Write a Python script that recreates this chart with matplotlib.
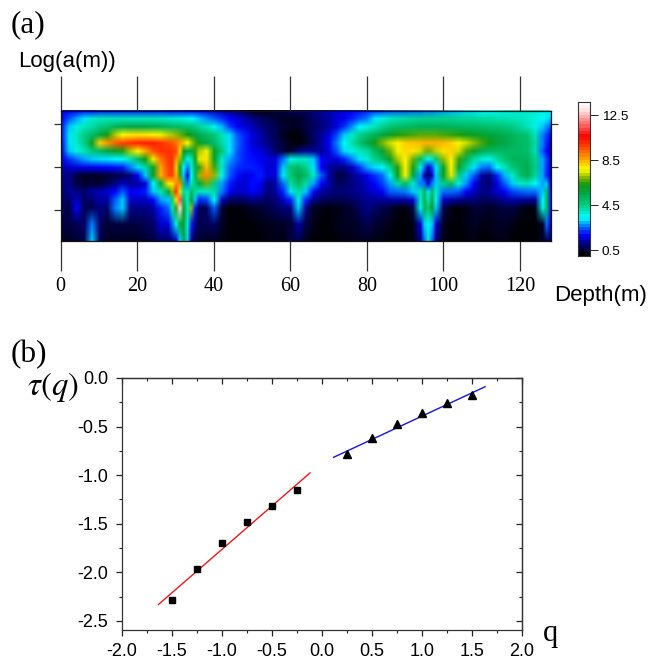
import numpy as np
import matplotlib
matplotlib.use("Agg")
import matplotlib.pyplot as plt
from matplotlib.colors import LinearSegmentedColormap, Normalize
from matplotlib.image import NonUniformImage
from matplotlib.ticker import MultipleLocator

W, H = 661, 659

depth = [0,2,4,6,8,10,12,14,16,18,20,22,24,26,28,
         29,30,31,32,33,34,35,36,
         38,40,42,44,46,48,50,52,54,56,58,60,62,64,66,68,70,72,74,76,78,80,82,84,86,88,90,92,
         94,95,96,97,98,
         100,102,104,106,108,110,112,114,116,118,120,122,124,126,
         127,128]
log_rows = [0,1,2,2.5,3,3.5,4,4.5,5,5.5,6,6.5,7,7.5,8]

row0 = [1.6,1.7,1.8,1.9,1.9,2.0,2.0,2.0,2.0,2.0,2.0,2.0,2.0,2.0,1.9,
        1.9,1.9,1.9,1.9,1.8,1.8,1.8,1.7,
        1.6,1.4,1.2,1.0,0.8,0.5,0.2,0.1,0.2,0.4,0.5,0.6,0.7,0.8,1.0,1.1,1.3,1.5,1.7,1.8,1.9,2.0,2.1,2.2,2.3,2.4,2.4,2.5,
        2.5,2.6,2.6,2.6,2.7,
        2.8,2.9,3.0,3.1,3.2,3.3,3.4,3.5,3.6,3.7,3.7,3.7,3.7,3.6,
        3.5,3.3]
row0b = [1.8,2.3,2.8,3.2,3.8,3.9,4.0,4.0,4.0,4.0,4.0,4.0,4.0,3.9,3.8,
         3.8,3.7,3.7,3.6,3.5,3.4,3.2,3.0,
         2.7,2.4,2.1,1.8,1.6,1.3,1.0,0.8,0.6,0.4,0.3,0.3,0.3,0.5,0.8,1.0,1.2,1.5,1.7,2.0,2.3,2.6,3.2,3.6,3.9,4.1,4.2,4.3,
         4.4,4.4,4.4,4.4,4.4,
         4.4,4.4,4.3,4.3,4.3,4.2,4.2,4.1,4.1,4.0,3.9,3.8,3.6,3.3,
         3.2,3.0]
row1 = [1.9,3.0,3.6,3.9,4.2,4.5,4.8,5.2,5.4,5.5,5.5,5.5,5.4,5.3,5.1,
        5.1,5.0,5.0,4.9,4.8,4.7,4.5,4.3,
        4.0,3.5,2.9,2.2,1.8,1.5,1.3,1.0,0.8,0.6,0.4,0.3,0.3,0.5,0.7,0.9,1.2,1.6,2.1,2.7,3.3,3.6,4.0,4.4,4.7,4.9,5.0,5.1,
        5.2,5.2,5.2,5.2,5.2,
        5.2,5.1,5.1,5.0,5.0,4.9,4.8,4.7,4.6,4.5,4.3,4.0,3.6,3.0,
        2.7,2.3]
row1b = [1.9,3.2,3.9,4.5,5.0,5.5,6.3,7.2,7.7,7.9,8.0,7.9,7.8,7.6,7.3,
         7.2,7.0,6.8,6.6,6.3,6.0,5.7,5.4,
         5.0,4.6,4.0,3.1,2.4,2.0,1.6,1.3,0.9,0.6,0.3,0.1,0.1,0.4,0.8,1.1,1.6,2.2,3.0,3.8,4.4,4.8,5.2,5.6,6.0,6.4,6.5,6.6,
         6.7,6.7,6.7,6.7,6.7,
         6.6,6.5,6.4,6.2,6.0,5.9,5.7,5.5,5.3,5.1,4.9,4.7,4.0,2.6,
         2.2,1.8]
row2 = [1.8,3.2,3.8,4.5,6.0,8.2,8.8,9.4,9.8,10.0,10.2,10.3,10.3,10.0,9.7,
        9.5,9.2,8.8,8.3,7.7,7.2,6.6,6.0,
        5.5,5.0,4.2,3.2,2.5,2.0,1.6,1.3,1.0,0.7,0.4,0.2,0.1,0.3,0.7,1.2,1.8,2.6,3.4,4.1,4.8,5.5,6.2,6.9,7.4,7.8,8.2,8.3,
        8.4,8.5,8.5,8.5,8.5,
        8.4,8.2,7.8,7.4,7.0,6.6,6.2,5.8,5.5,5.2,5.0,4.9,4.2,2.6,
        2.0,1.6]
row2b = [1.6,3.0,3.6,4.0,4.6,5.0,5.6,6.0,6.4,7.2,7.8,8.6,9.6,10.0,10.0,
         9.9,9.8,8.2,6.2,5.6,5.5,6.5,7.2,
         7.6,6.0,4.6,3.2,2.4,2.0,1.8,1.6,1.3,0.8,0.5,0.3,0.9,1.1,1.1,1.1,1.6,2.3,3.1,3.6,3.9,4.2,5.0,5.8,6.8,7.6,8.1,8.0,
         7.4,7.0,6.8,7.0,7.3,
         8.0,8.2,7.4,6.6,5.9,5.3,5.1,5.0,5.0,5.0,5.0,4.9,4.1,2.4,
         1.8,1.4]
row3 = [1.5,2.1,2.5,2.8,3.0,3.1,3.2,3.3,3.4,4.0,5.0,6.3,7.6,9.2,9.9,
        10.0,8.8,7.0,5.0,3.5,4.0,6.0,7.5,
        8.0,6.0,3.8,2.8,2.3,2.0,1.9,1.8,1.5,1.6,2.5,3.5,3.8,3.8,3.0,1.8,1.5,1.6,2.0,2.6,3.2,3.7,4.4,5.0,6.0,7.2,7.8,6.8,
        5.0,4.2,3.3,3.9,4.6,
        7.0,7.8,6.5,5.2,4.2,3.7,3.5,4.2,4.7,5.1,5.2,5.1,4.4,2.8,
        2.2,1.6]
row3b = [1.2,1.4,1.6,1.7,1.7,1.8,1.8,1.9,2.0,2.6,3.1,4.2,6.0,8.6,9.8,
         10.0,8.2,6.0,3.4,2.5,3.8,5.2,6.5,
         8.4,6.6,3.8,2.5,2.1,2.0,2.0,1.9,1.5,1.6,3.0,4.8,5.0,4.4,3.2,1.8,1.2,1.0,1.0,1.4,2.1,2.8,3.1,3.3,4.4,6.4,7.8,6.4,
         3.6,2.5,1.4,2.2,3.2,
         6.0,7.8,5.8,4.4,3.2,2.6,2.5,3.3,4.0,4.6,5.1,5.3,4.5,2.8,
         2.1,1.6]
row4 = [1.0,1.0,0.5,0.3,0.3,0.3,0.4,0.5,0.6,1.0,1.8,3.0,6.0,8.5,9.7,
        9.8,8.5,6.5,3.0,1.5,3.4,5.2,7.0,
        9.0,7.0,3.5,2.4,1.9,1.6,1.8,2.0,1.6,1.5,3.2,4.6,5.5,5.0,3.8,2.4,1.3,0.5,0.6,1.0,1.3,1.7,2.1,2.5,3.5,6.0,7.6,5.5,
        2.8,1.3,0.7,1.5,3.0,
        6.0,7.5,4.5,3.0,2.4,1.2,0.9,2.0,2.9,3.8,4.8,5.3,4.3,2.8,
        2.0,1.5]
row4b = [0.9,1.0,0.5,0.4,0.4,0.4,0.6,1.0,1.4,1.1,1.2,1.6,3.3,5.8,8.0,
         8.0,9.0,9.0,5.0,2.6,4.0,4.6,5.5,
         6.8,4.5,2.8,2.0,1.6,1.5,1.9,1.8,1.0,1.2,2.5,4.2,5.0,4.2,2.8,1.8,1.2,0.7,0.7,1.0,1.1,1.5,1.8,2.2,2.8,4.2,5.0,3.8,
         2.6,2.5,1.6,2.6,3.0,
         4.4,5.0,3.6,2.7,1.8,1.0,0.9,1.6,2.4,3.0,3.8,4.0,3.4,2.8,
         3.0,1.7]
row5 = [0.7,1.1,1.0,0.8,1.2,1.3,1.5,1.8,2.4,1.8,1.8,2.0,3.0,4.0,5.8,
        7.0,10.0,7.5,4.2,4.0,5.0,4.2,3.9,
        3.8,4.2,2.6,1.8,1.4,1.5,1.8,1.5,0.9,1.2,2.0,3.2,4.2,3.0,1.8,1.2,1.0,0.9,0.9,1.0,1.1,1.3,1.5,1.8,2.4,2.5,2.6,3.0,
        4.0,5.0,3.2,5.0,3.8,
        2.5,2.5,2.4,1.8,1.4,1.0,1.1,1.4,1.8,2.2,2.4,2.5,2.5,3.0,
        5.0,2.0]
row5b = [0.7,0.8,1.4,0.7,0.9,1.2,1.2,2.4,3.0,1.4,1.4,1.4,1.8,2.8,3.0,
         4.5,8.0,11.5,5.0,3.8,6.0,3.0,2.0,
         2.2,3.4,1.4,0.8,0.7,0.8,1.0,0.9,0.7,0.9,1.4,2.0,3.6,2.0,1.0,0.7,0.6,0.6,0.6,0.7,0.9,1.1,1.1,1.1,1.2,1.2,1.2,1.6,
         3.8,5.2,4.0,5.6,3.3,
         1.4,1.2,1.1,0.9,0.9,0.7,0.7,0.9,1.1,1.2,1.2,1.1,1.1,3.3,
         5.0,2.0]
row6 = [0.7,0.5,1.8,0.6,0.6,1.0,0.8,2.6,3.0,1.0,1.0,1.0,1.2,2.0,2.5,
        4.0,6.5,13.0,6.0,3.8,7.0,2.0,0.6,
        0.7,2.4,0.4,0.1,0.1,0.2,0.3,0.4,0.5,0.7,0.9,1.0,3.0,1.0,0.3,0.2,0.1,0.2,0.3,0.4,0.7,1.0,0.8,0.6,0.4,0.2,0.1,0.5,
        3.5,5.2,4.6,6.0,3.0,
        0.6,0.2,0.1,0.2,0.4,0.4,0.3,0.4,0.5,0.5,0.3,0.1,0.2,3.5,
        5.0,2.0]
row7 = [0.5,0.5,0.6,0.8,2.6,0.8,0.4,0.5,0.5,0.5,0.5,0.6,0.8,1.5,1.5,
        2.5,3.6,5.5,5.8,3.8,2.0,1.0,0.6,
        0.6,0.8,0.3,0.1,0.1,0.1,0.1,0.2,0.2,0.3,0.3,0.4,1.2,0.5,0.2,0.1,0.1,0.2,0.3,0.3,0.4,0.6,0.4,0.3,0.2,0.1,0.1,0.2,
        1.5,3.0,3.5,3.0,1.5,
        0.3,0.1,0.1,0.2,0.3,0.2,0.2,0.3,0.3,0.2,0.1,0.1,0.1,0.3,
        2.5,1.5]
row8 = [0.3,0.3,0.4,0.6,3.0,0.6,0.3,0.3,0.3,0.3,0.3,0.4,0.5,0.8,0.8,
        1.0,1.5,3.0,5.5,3.0,1.0,0.5,0.4,
        0.3,0.3,0.2,0.1,0.1,0.1,0.1,0.1,0.2,0.2,0.2,0.5,0.6,0.3,0.1,0.1,0.1,0.1,0.2,0.2,0.3,0.3,0.2,0.2,0.1,0.1,0.1,0.2,
        1.0,2.5,3.8,2.5,1.0,
        0.2,0.1,0.1,0.1,0.2,0.1,0.1,0.2,0.2,0.1,0.1,0.1,0.1,0.3,
        0.6,0.8]
# bottom row first: the y coordinate grows upward
heat = np.array([row8,row7,row6,row5b,row5,row4b,row4,row3b,row3,row2b,row2,row1b,row1,row0b,row0])

cbar_ticks = [0.5, 4.5, 8.5, 12.5]
depth_ticks = [0, 20, 40, 60, 80, 100, 120]
log_ticks = [7.2, 4.57, 1.92]

q_neg = [-1.5, -1.25, -1.0, -0.75, -0.5, -0.25]
tau_neg = [-2.28, -1.97, -1.70, -1.48, -1.32, -1.15]
q_pos = [0.25, 0.5, 0.75, 1.0, 1.25, 1.5]
tau_pos = [-0.78, -0.62, -0.477, -0.357, -0.26, -0.17]
fit_neg_q = [-1.63, -0.116]
fit_neg_tau = [-2.33, -0.977]
fit_pos_q = [0.12, 1.634]
fit_pos_tau = [-0.816, -0.09]

vmin, vmax = 0.0, 13.66
stops = [(0.0, "#000000"), (0.8, "#00006e"), (1.8, "#0000ff"), (2.6, "#0080ff"),
         (3.3, "#00ffff"), (3.9, "#00e8c0"), (4.6, "#00c878"), (5.5, "#00a848"),
         (6.3, "#109a10"), (7.0, "#90b800"), (7.7, "#ffff00"), (8.7, "#ffa000"),
         (9.7, "#ff4800"), (10.7, "#ff0000"), (12.0, "#ff8080"), (13.0, "#ffe0e0"),
         (13.66, "#ffffff")]
cmap = LinearSegmentedColormap.from_list(
    "wavelet", [(v / vmax, c) for v, c in stops], N=256)
cbar_cmap = LinearSegmentedColormap.from_list(
    "wavelet_steps", [(v / vmax, c) for v, c in stops], N=48)

plt.rcParams["font.family"] = ["Liberation Sans", "DejaVu Sans"]
plt.rcParams["mathtext.fontset"] = "stix"
plt.rcParams["axes.unicode_minus"] = False
fig = plt.figure(figsize=(W / 100, H / 100), dpi=100)


def box(l, t, r, b):
    return [l / W, 1 - b / H, (r - l) / W, (b - t) / H]


def put(x, y, s, **kw):
    fig.text(x / W, 1 - y / H, s, **kw)


# Panel (a)
ax = fig.add_axes(box(60.5, 111, 550.5, 241))
im = NonUniformImage(ax, interpolation="bilinear", cmap=cmap,
                     norm=Normalize(vmin, vmax), extent=(0, 128, 0, 8))
im.set_data(depth, log_rows, heat)
ax.add_image(im)
ax.set_xlim(0, 128)
ax.set_ylim(0, 8)
ax.set_xticks(depth_ticks)
ax.set_xticklabels([str(d) for d in depth_ticks],
                   family="Liberation Serif", fontsize=14.5)
ax.set_yticks(log_ticks)
ax.set_yticklabels([])
ax.tick_params(axis="x", which="major", top=True, bottom=True, direction="out",
               length=21.6, width=0.9, color="#333333", pad=4)
ax.tick_params(axis="y", which="major", left=True, right=True, direction="out",
               length=5, width=0.9, color="#333333")
for tick in ax.xaxis.get_major_ticks():
    tick.tick2line.set_markersize(25)
for s in ax.spines.values():
    s.set_linewidth(0.9)
    s.set_color("#111111")

# Colour bar
cax = fig.add_axes(box(578, 102, 590, 256))
cax.imshow(np.linspace(vmax, vmin, 48)[:, None], cmap=cbar_cmap, vmin=vmin, vmax=vmax,
           aspect="auto", extent=[0, 1, vmin, vmax], interpolation="nearest")
cax.set_xticks([])
cax.yaxis.tick_right()
cax.set_yticks(cbar_ticks)
cax.set_yticklabels([str(t) for t in cbar_ticks], fontsize=9.7)
cax.tick_params(axis="y", direction="out", length=5.8, width=0.7, pad=2.5, color="#222222")
for s in cax.spines.values():
    s.set_linewidth(0.8)
    s.set_color("#333333")

# Panel (b)
bx = fig.add_axes(box(121.5, 378, 521.7, 630))
bx.plot(fit_neg_q, fit_neg_tau, color="#f01818", lw=1.0)
bx.plot(fit_pos_q, fit_pos_tau, color="#1414e6", lw=1.0)
bx.plot(q_neg, tau_neg, ls="none", marker="s", color="black", ms=3.8)
bx.plot(q_pos, tau_pos, ls="none", marker="^", color="black", ms=5.5)
bx.set_xlim(-2, 2)
bx.set_ylim(-2.593, 0)
bx.xaxis.set_major_locator(MultipleLocator(0.5))
bx.xaxis.set_minor_locator(MultipleLocator(0.25))
bx.yaxis.set_major_locator(MultipleLocator(0.5))
bx.yaxis.set_minor_locator(MultipleLocator(0.25))
bx.tick_params(axis="both", which="major", labelsize=13, length=4.5, width=0.9,
               top=False, right=False, color="#222222", direction="out")
bx.tick_params(axis="both", which="minor", length=2, width=0.8,
               top=False, right=False, color="#222222", direction="out")
bx.tick_params(axis="x", which="major", pad=5.2)
bx.tick_params(axis="y", which="major", pad=5)
# Top and right edges carry inward ticks, without labels
for t_axis, which_axis in ((bx.secondary_xaxis("top"), "x"), (bx.secondary_yaxis("right"), "y")):
    t_axis.tick_params(axis=which_axis, which="major", direction="in", length=4.3, width=0.9,
                       color="#222222", labeltop=False, labelright=False)
    t_axis.tick_params(axis=which_axis, which="minor", direction="in", length=2.2, width=0.8,
                       color="#222222")
    locator_axis = t_axis.xaxis if which_axis == "x" else t_axis.yaxis
    locator_axis.set_major_locator(MultipleLocator(0.5))
    locator_axis.set_minor_locator(MultipleLocator(0.25))
    for side in t_axis.spines.values():
        side.set_linewidth(0.9)
        side.set_color("#333333")
for s in bx.spines.values():
    s.set_linewidth(0.9)
    s.set_color("#333333")

# Titles and axis names
put(11, 25, "(a)", family="Liberation Serif", fontsize=22.5, va="center", ha="left")
put(11, 355, "(b)", family="Liberation Serif", fontsize=22.5, va="center", ha="left")
put(18, 62, "Log(a(m))", fontsize=16, va="center", ha="left")
put(554, 296, "Depth(m)", fontsize=16, va="center", ha="left")
put(27, 387, r"$\tau(q)$", fontsize=23.5, va="center", ha="left")
put(543, 634, "q", family="Liberation Serif", fontsize=22, va="center", ha="left")

fig.savefig("out.png", dpi=100)
